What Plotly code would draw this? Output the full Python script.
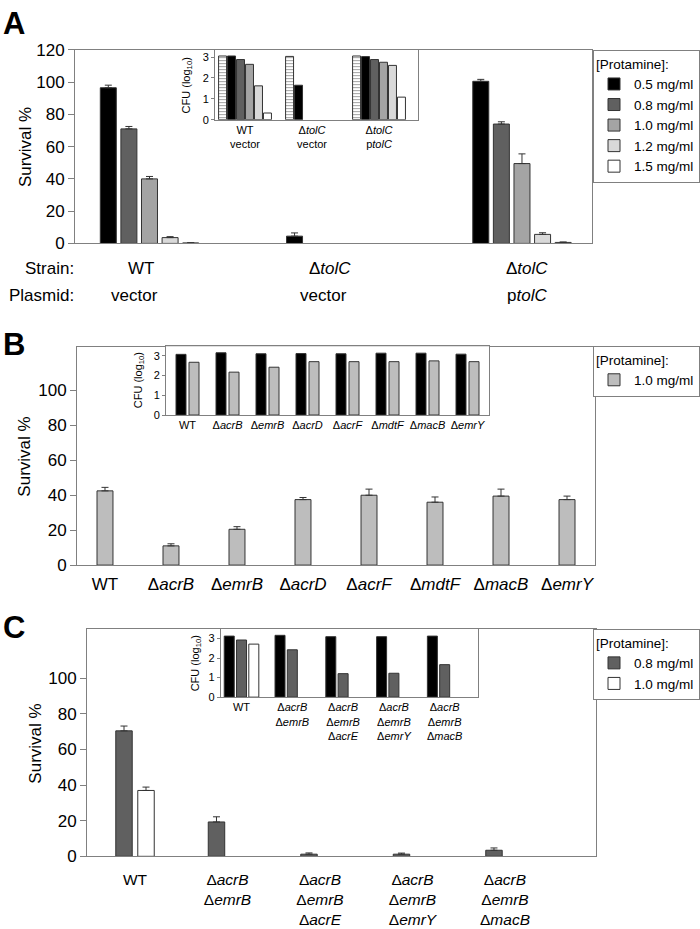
import plotly.graph_objects as go

# ---------------- Panel A data ----------------
conc_a = ["0.5 mg/ml", "0.8 mg/ml", "1.0 mg/ml", "1.2 mg/ml", "1.5 mg/ml"]
strain_a = ["WT", "Δ<i>tolC</i>", "Δ<i>tolC</i>"]
plasmid_a = ["vector", "vector", "p<i>tolC</i>"]
surv_a_05 = [96.5, 4.5, 100.5]
err_a_05 = [1.6, 2.0, 1.2]
surv_a_08 = [71.0, None, 74.0]
err_a_08 = [1.5, 0, 1.4]
surv_a_10 = [40.0, None, 49.5]
err_a_10 = [1.5, 0, 6.0]
surv_a_12 = [3.6, None, 5.6]
err_a_12 = [0.6, 0, 1.0]
surv_a_15 = [0.3, None, 0.6]
err_a_15 = [0.1, 0, 0.3]

inset_a_labels = ["WT<br>vector", "Δ<i>tolC</i><br>vector", "Δ<i>tolC</i><br>p<i>tolC</i>"]
cfu_a_none = [3.05, 3.03, 3.05]
cfu_a_05 = [3.05, 1.65, 3.02]
cfu_a_08 = [2.88, None, 2.88]
cfu_a_10 = [2.65, None, 2.75]
cfu_a_12 = [1.62, None, 2.60]
cfu_a_15 = [0.32, None, 1.08]

# ---------------- Panel B data ----------------
strain_b = ["WT", "Δ<i>acrB</i>", "Δ<i>emrB</i>", "Δ<i>acrD</i>", "Δ<i>acrF</i>",
            "Δ<i>mdtF</i>", "Δ<i>macB</i>", "Δ<i>emrY</i>"]
surv_b_10 = [42.5, 11.0, 20.5, 37.5, 40.0, 36.0, 39.5, 37.5]
err_b_10 = [2.0, 1.2, 1.5, 1.2, 3.5, 3.0, 4.0, 2.0]
cfu_b_none = [3.07, 3.15, 3.10, 3.11, 3.10, 3.13, 3.13, 3.08]
cfu_b_10 = [2.67, 2.17, 2.42, 2.70, 2.70, 2.70, 2.74, 2.70]

# ---------------- Panel C data ----------------
strain_c = ["WT",
            "Δ<i>acrB</i><br>Δ<i>emrB</i>",
            "Δ<i>acrB</i><br>Δ<i>emrB</i><br>Δ<i>acrE</i>",
            "Δ<i>acrB</i><br>Δ<i>emrB</i><br>Δ<i>emrY</i>",
            "Δ<i>acrB</i><br>Δ<i>emrB</i><br>Δ<i>macB</i>"]
conc_c = ["0.8 mg/ml", "1.0 mg/ml"]
surv_c_08 = [70.5, 19.3, 1.2, 1.2, 3.4]
err_c_08 = [2.7, 2.9, 0.7, 0.6, 1.3]
surv_c_10 = [37.0, None, None, None, None]
err_c_10 = [1.9, 0, 0, 0, 0]
cfu_c_none = [3.12, 3.16, 3.09, 3.09, 3.12]
cfu_c_08 = [2.92, 2.42, 1.20, 1.22, 1.66]
cfu_c_10 = [2.71, None, None, None, None]

# ---------------- styling ----------------
W, H = 700, 929
FONT = "Liberation Sans, Arial, Helvetica, sans-serif"
LINE = "#808080"
OUT = "#333333"
C05, C08, C10, C12, C15 = "#000000", "#606060", "#a4a4a4", "#d9d9d9", "#ffffff"
C10B = "#bdbdbd"
STRIPE = dict(shape="-", fgcolor="#444444", bgcolor="white", size=3, solidity=0.35)


def dom_x(l, r):
    return [l / W, r / W]


def dom_y(t, b):
    return [1 - b / H, 1 - t / H]


fig = go.Figure()


def bar(y, err, xa, ya, color, center, width, name=None, legend=None, pattern=None):
    n = len(y)
    kw = {}
    if err is not None:
        kw["error_y"] = dict(type="data", array=err, arrayminus=[0] * n, symmetric=False,
                             color=OUT, thickness=1, width=3.5)
    marker = dict(color=color, line=dict(color=OUT, width=1))
    if pattern is not None:
        marker["pattern"] = pattern
    fig.add_trace(go.Bar(x=list(range(n)), y=y, xaxis=xa, yaxis=ya,
                         offset=center - width / 2, width=width, marker=marker,
                         name=name, showlegend=legend is not None,
                         legend=legend if legend else "legend",
                         hoverinfo="skip", **kw))


# Panel A main
wA, pA = 0.0859, 0.1106
for k, (vals, errs, col) in enumerate([(surv_a_05, err_a_05, C05), (surv_a_08, err_a_08, C08),
                                       (surv_a_10, err_a_10, C10), (surv_a_12, err_a_12, C12),
                                       (surv_a_15, err_a_15, C15)]):
    bar(vals, errs, "x", "y", col, (k - 2) * pA, wA, name=conc_a[k], legend="legend")

# Panel A inset
wAi, pAi = 0.119, 0.134
bar(cfu_a_none, None, "x2", "y2", "white", -2.5 * pAi, wAi, pattern=STRIPE)
for k, (vals, col) in enumerate([(cfu_a_05, C05), (cfu_a_08, C08), (cfu_a_10, C10),
                                 (cfu_a_12, C12), (cfu_a_15, C15)]):
    bar(vals, None, "x2", "y2", col, (k - 1.5) * pAi, wAi)

# Panel B main
bar(surv_b_10, err_b_10, "x3", "y3", C10B, 0, 0.242, name="1.0 mg/ml", legend="legend2")
# Panel B inset
bar(cfu_b_none, None, "x4", "y4", C05, -0.1625, 0.25)
bar(cfu_b_10, None, "x4", "y4", C10B, 0.1625, 0.25)

# Panel C main
bar(surv_c_08, err_c_08, "x5", "y5", C08, -0.119, 0.178, name=conc_c[0], legend="legend3")
bar(surv_c_10, err_c_10, "x5", "y5", C15, 0.119, 0.178, name=conc_c[1], legend="legend3")
# Panel C inset
bar(cfu_c_none, None, "x6", "y6", C05, -0.242, 0.197)
bar(cfu_c_08, None, "x6", "y6", C08, 0.0, 0.197)
bar(cfu_c_10, None, "x6", "y6", C15, 0.242, 0.197)


def yax(dom, rng, tickvals, anchor, size=17, ticklen=6):
    return dict(domain=dom, range=rng, tickvals=tickvals, ticks="outside", ticklen=ticklen,
                tickcolor=LINE, showline=True, linecolor=LINE, linewidth=1, mirror=True,
                showgrid=False, zeroline=False, anchor=anchor, fixedrange=True,
                tickfont=dict(size=size, color="black", family=FONT))


def xax(dom, rng, n, anchor, ticktext=None, size=17, standoff=0):
    d = dict(domain=dom, range=rng, tickvals=list(range(n)), ticks="", showline=True,
             linecolor=LINE, linewidth=1, mirror=True, showgrid=False, zeroline=False,
             anchor=anchor, fixedrange=True,
             tickfont=dict(size=size, color="black", family=FONT))
    if ticktext is None:
        d["showticklabels"] = False
    else:
        d["ticktext"] = ticktext
        d["ticklabelstandoff"] = standoff
    return d


main_ticks = [0, 20, 40, 60, 80, 100]
inset_ticks = [0, 1, 2, 3]

annotations = []


def text(x, y, s, size=17, xanchor="center", yanchor="middle", angle=0, bold=False):
    annotations.append(dict(x=x / W, y=1 - y / H, xref="paper", yref="paper", text=s,
                            showarrow=False, xanchor=xanchor, yanchor=yanchor,
                            textangle=angle,
                            font=dict(size=size, color="black", family=FONT,
                                      weight="bold" if bold else "normal")))


# panel letters
text(1, 15, "A", size=31, xanchor="left", bold=True)
text(1, 342, "B", size=31, xanchor="left", bold=True)
text(1, 631, "C", size=31, xanchor="left", bold=True)

# y titles
text(25, 141, "Survival %", angle=-90)
text(25, 457, "Survival %", angle=-90)
text(36, 750, "Survival %", angle=-90)
text(187, 78, "CFU (log<sub>10</sub>)", size=11, angle=-90)
text(139, 379, "CFU (log<sub>10</sub>)", size=11, angle=-90)
text(196, 668, "CFU (log<sub>10</sub>)", size=11, angle=-90)

# Strain / Plasmid rows for panel A
text(76, 265, "Strain:", xanchor="right")
text(76, 292, "Plasmid:", xanchor="right")
strain_px = [141, 330, 527]
plasmid_px = [134, 323, 527]
for i in range(3):
    text(strain_px[i], 265, strain_a[i])
    text(plasmid_px[i], 292, plasmid_a[i])

LEGF = dict(size=13.5, color="black", family=FONT)
leg_common = dict(bgcolor="white", bordercolor=LINE, borderwidth=1, xanchor="right",
                  yanchor="top", font=LEGF, x=1.0,
                  title=dict(text="[Protamine]:", font=LEGF),
                  traceorder="normal", itemclick=False, itemdoubleclick=False)

fig.update_layout(
    width=W, height=H, autosize=False,
    margin=dict(l=0, r=0, t=0, b=0),
    paper_bgcolor="white", plot_bgcolor="white",
    font=dict(family=FONT, color="black"),
    barmode="overlay",
    showlegend=True,
    xaxis=xax(dom_x(75, 592), [-0.4, 2.376], 3, "y"),
    yaxis=yax(dom_y(41.7, 239.3), [0, 120], main_ticks + [120], "x"),
    xaxis2=xax(dom_x(215, 418), [-0.448, 2.582], 3, "y2", inset_a_labels, size=11, standoff=0),
    yaxis2=yax(dom_y(42, 113), [0, 3.33], inset_ticks, "x2", size=11, ticklen=3),
    xaxis3=xax(dom_x(77, 595), [-0.424, 7.424], 8, "y3", strain_b, size=17, standoff=4),
    yaxis3=yax(dom_y(345, 567.7), [0, 124.9], main_ticks, "x3"),
    xaxis4=xax(dom_x(166, 489), [-0.5375, 7.5375], 8, "y4", strain_b, size=11, standoff=0),
    yaxis4=yax(dom_y(344.3, 414.5), [0, 3.48], inset_ticks, "x4", size=11, ticklen=3),
    xaxis5=xax(dom_x(87, 596), [-0.519, 4.984], 5, "y5", strain_c, size=15.5, standoff=9),
    yaxis5=yax(dom_y(633, 865), [0, 127.7], main_ticks, "x5"),
    xaxis6=xax(dom_x(220.7, 478), [-0.41, 4.656], 5, "y6", strain_c, size=11, standoff=0),
    yaxis6=yax(dom_y(633, 702.5), [0, 3.48], inset_ticks, "x6", size=11, ticklen=3),
    legend=dict(y=1 - 42 / H, **leg_common),
    legend2=dict(y=1 - 344 / H, **leg_common),
    legend3=dict(y=1 - 633 / H, **leg_common),
    annotations=annotations,
)

fig.write_html(
    "out.html",
    config={"displayModeBar": False, "staticPlot": True},
    post_script=(
        "document.documentElement.style.margin='0';"
        "document.body.style.margin='0';document.body.style.padding='0';"
        "document.body.style.overflow='hidden';"
        "var gd=document.getElementById('{plot_id}');"
        "gd.style.position='absolute';gd.style.left='0px';gd.style.top='0px';"
    ),
)
